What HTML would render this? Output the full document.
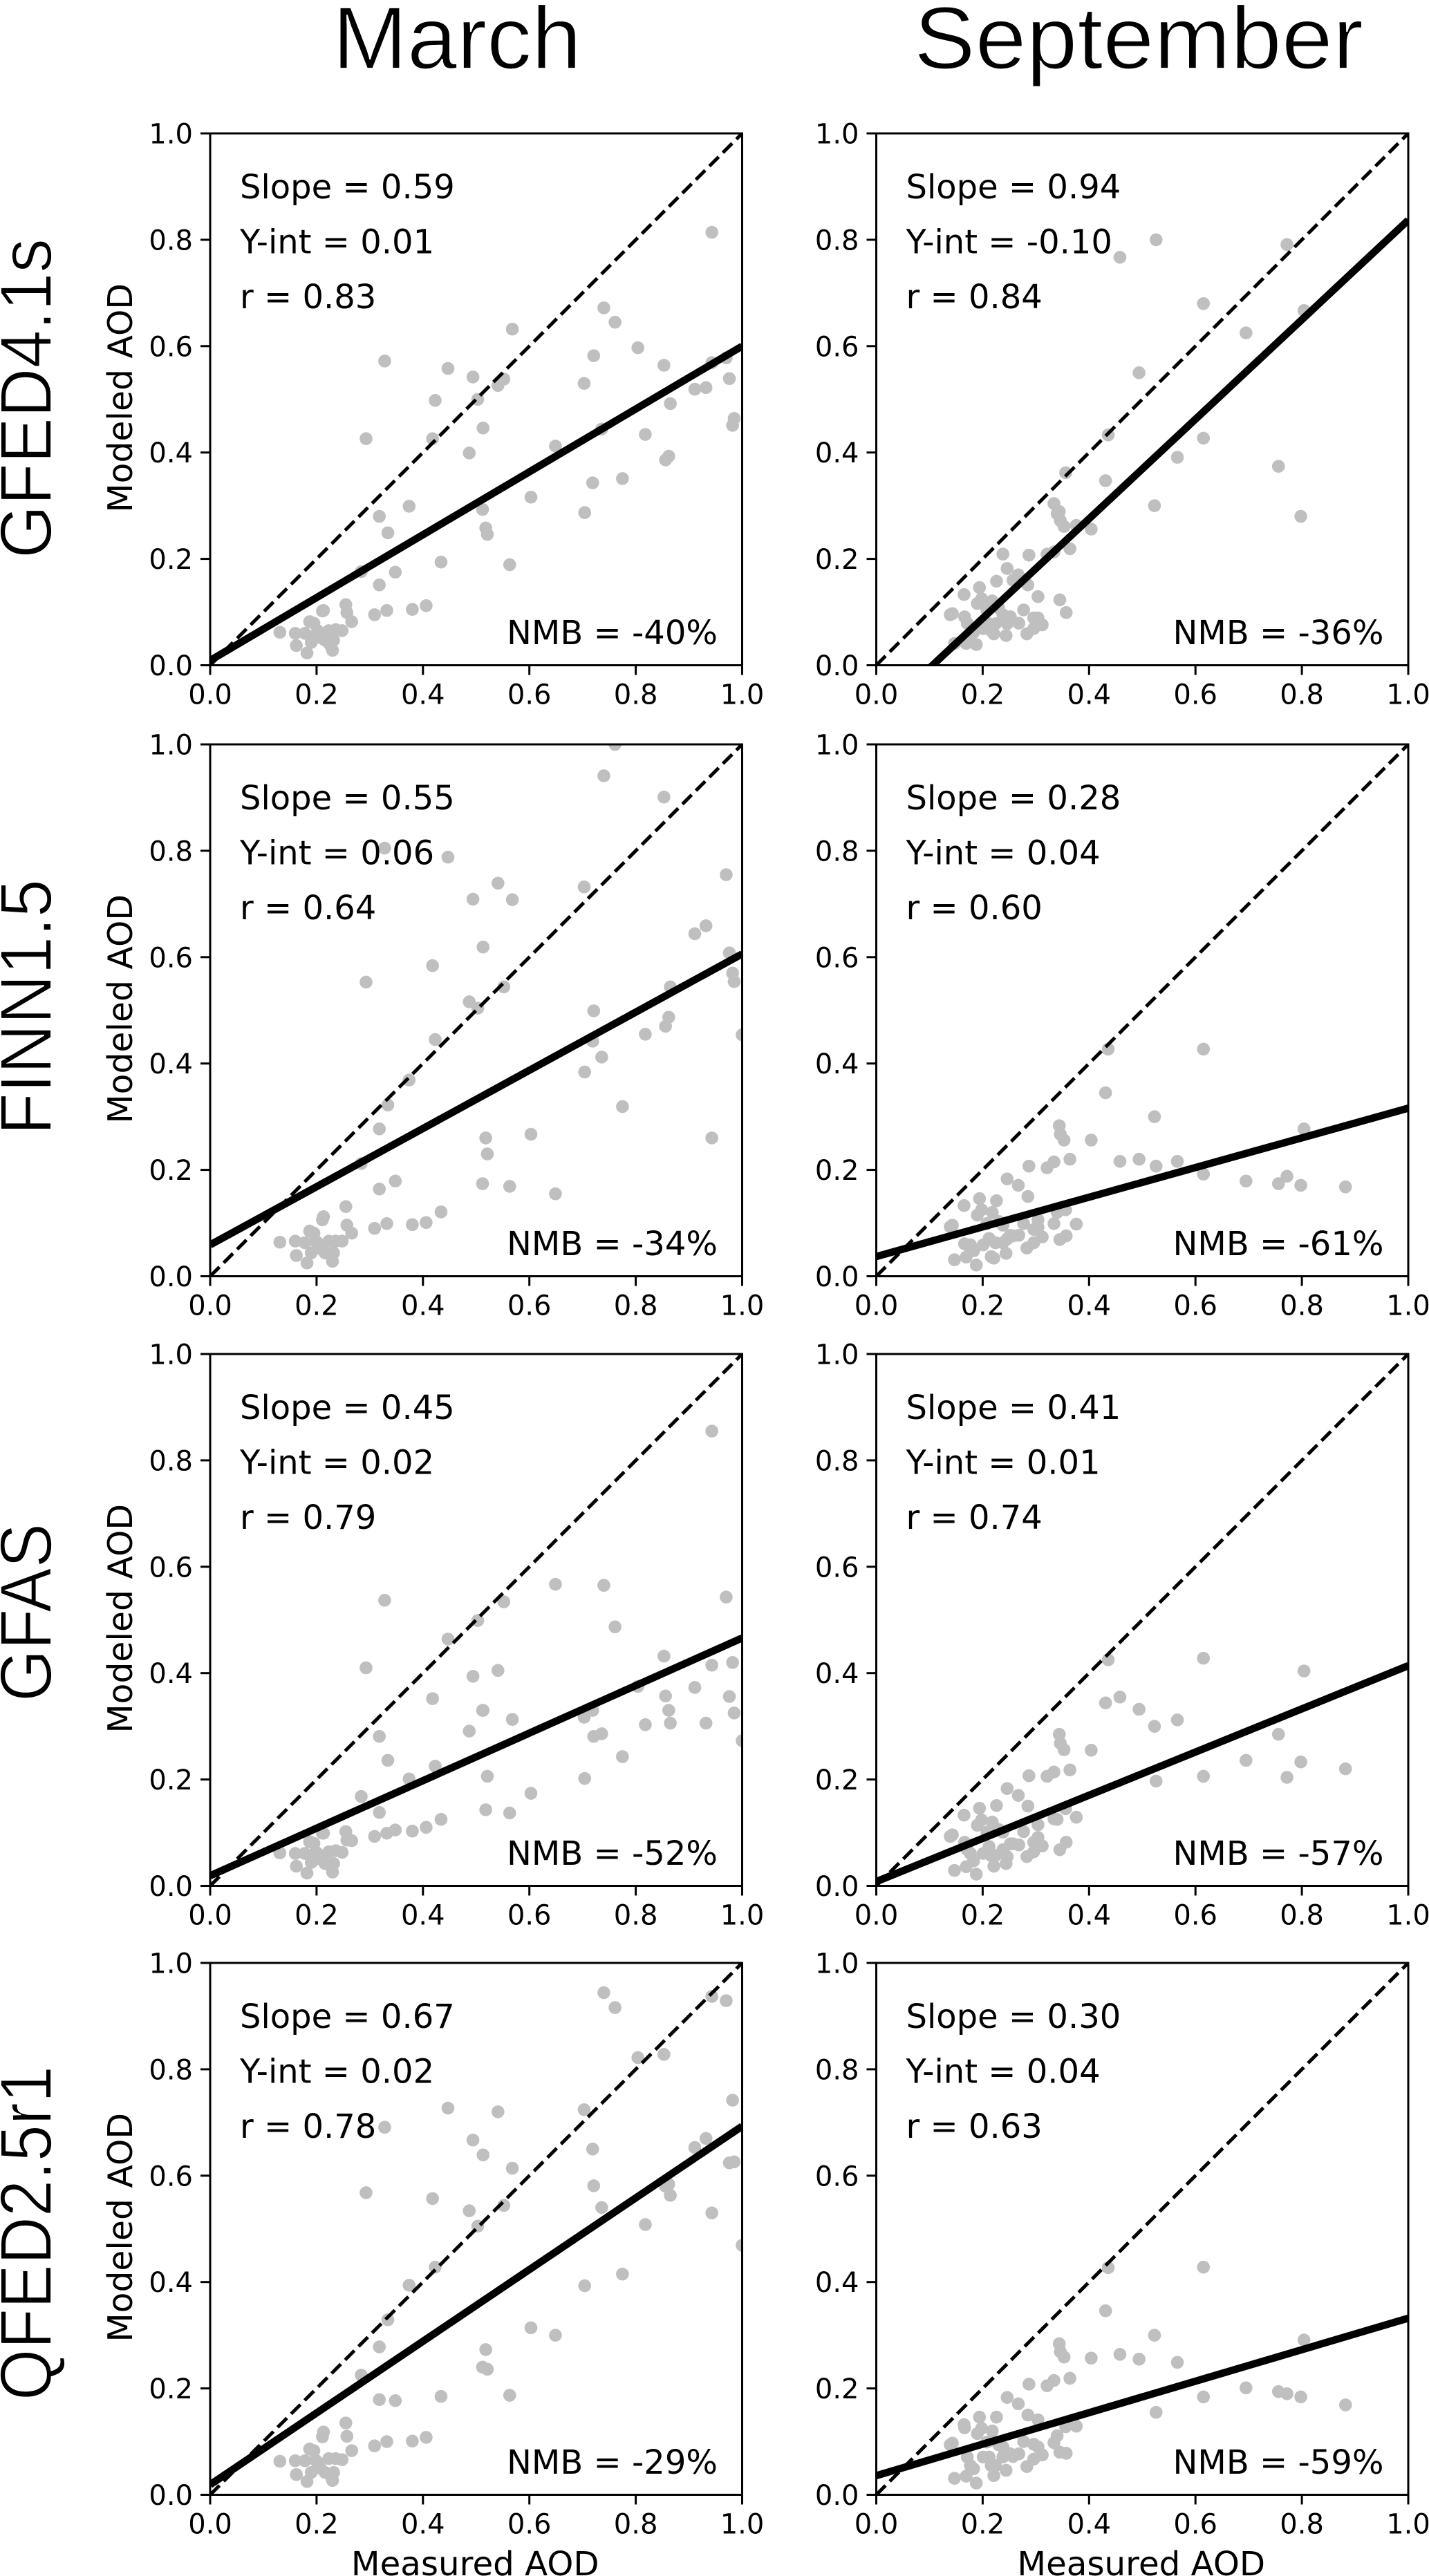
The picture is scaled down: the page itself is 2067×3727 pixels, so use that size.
<!DOCTYPE html>
<html lang="en">
<head>
<meta charset="utf-8">
<title>Modeled vs Measured AOD</title>
<style>
html,body{margin:0;padding:0;background:#fff;}
svg{display:block;}
text{fill:#000;}
.title{font-family:"Liberation Sans",sans-serif;stroke:#fff;stroke-width:1.8;paint-order:normal;}
.dv{font-family:"DejaVu Sans",sans-serif;}
</style>
</head>
<body>
<svg id="figure" xmlns="http://www.w3.org/2000/svg" width="2067" height="3727" viewBox="0 0 2067 3727">
  <rect x="0" y="0" width="2067" height="3727" fill="#fff"/>
  <text class="title" x="661" y="99" text-anchor="middle" font-size="128" textLength="360" lengthAdjust="spacingAndGlyphs">March</text>
  <text class="title" x="1647" y="99" text-anchor="middle" font-size="128" textLength="650" lengthAdjust="spacingAndGlyphs">September</text>
  <text class="title" transform="translate(74,808) rotate(-90)" font-size="106" textLength="463" lengthAdjust="spacingAndGlyphs">GFED4.1s</text>
  <text class="title" transform="translate(74,1642) rotate(-90)" font-size="106" textLength="370" lengthAdjust="spacingAndGlyphs">FINN1.5</text>
  <text class="title" transform="translate(74,2462) rotate(-90)" font-size="106" textLength="258" lengthAdjust="spacingAndGlyphs">GFAS</text>
  <text class="title" transform="translate(74,3473) rotate(-90)" font-size="106" textLength="484" lengthAdjust="spacingAndGlyphs">QFED2.5r1</text>
</svg>
<script>
// Shared axis ticks
const tickValues = [0, 0.2, 0.4, 0.6, 0.8, 1.0];
const tickLabels = ['0.0', '0.2', '0.4', '0.6', '0.8', '1.0'];

// Measured AOD (x) per month
const marchX = [.131,.160,.162,.182,.178,.187,.195,.190,.198,.202,
  .207,.211,.213,.216,.223,.225,.230,.232,.236,.248,
  .255,.257,.266,.284,.293,.309,.318,.318,.328,.332,
  .334,.348,.374,.380,.406,.418,.423,.434,.447,.487,
  .494,.503,.512,.513,.518,.521,.541,.552,.563,.568,
  .603,.649,.703,.704,.719,.721,.736,.740,.761,.775,
  .804,.818,.853,.856,.862,.865,.911,.932,.943,.943,
  .970,.976,.982,.985,1.0];
const septemberX = [.139,.143,.147,.165,.169,.166,.171,.177,.183,.188,
  .190,.194,.198,.201,.208,.212,.218,.216,.221,.226,
  .224,.230,.238,.238,.244,.246,.246,.252,.257,.267,
  .268,.277,.283,.285,.287,.296,.304,.296,.304,.312,
  .321,.334,.334,.340,.344,.345,.346,.353,.356,.357,
  .364,.376,.404,.431,.436,.458,.494,.523,.526,.566,
  .615,.615,.695,.756,.772,.798,.804,.882];

// Modeled AOD (y), March
const marchGfedY = [.062,.060,.037,.023,.060,.082,.079,.043,.056,.065,
  .052,.102,.103,.047,.065,.039,.028,.047,.067,.065,
  .114,.099,.082,.176,.426,.095,.280,.151,.572,.103,
  .249,.175,.299,.105,.112,.426,.498,.194,.558,.399,
  .542,.500,.293,.446,.258,.246,.526,.538,.189,.632,
  .316,.412,.530,.287,.343,.582,.444,.672,.645,.351,
  .597,.434,.564,.386,.393,.492,.519,.522,.814,.569,
  .578,.539,.451,.464,null];
const marchFinnY = [.064,.066,.039,.025,.063,.085,.081,.044,.066,.063,
  .052,.106,.112,.044,.066,.041,.028,.044,.066,.066,
  .131,.096,.081,.212,.553,.090,.277,.164,.805,.099,
  .322,.179,.369,.097,.101,.584,.445,.121,.788,.516,
  .709,.504,.174,.619,.260,.230,.739,.544,.169,.708,
  .267,.155,.732,.384,.442,.499,.412,.941,1.0,.319,
  null,.455,.901,.470,.487,.544,.644,.659,.260,null,
  .755,.608,.570,.554,.454];
const marchGfasY = [.062,.061,.037,.024,.061,.083,.080,.044,.064,.061,
  .050,.099,.099,.042,.064,.039,.026,.042,.066,.063,
  .102,.086,.085,.168,.410,.093,.281,.138,.537,.099,
  .236,.105,.201,.103,.110,.352,.225,.125,.464,.291,
  .394,.499,.330,.330,.143,.206,.405,.534,.137,.313,
  .174,.567,.317,.202,.330,.281,.286,.565,.487,.243,
  .375,.303,.432,.357,.330,.306,.373,.306,.855,.415,
  .543,.356,.420,.325,.273];
const marchQfedY = [.063,.064,.038,.025,.064,.086,.083,.042,.065,.061,
  .050,.109,.118,.042,.068,.038,.027,.042,.068,.066,
  .135,.110,.083,.225,.568,.092,.278,.179,.691,.100,
  .329,.177,.394,.101,.108,.557,.428,.185,.727,.534,
  .667,.505,.240,.639,.273,.236,.720,.544,.187,.614,
  .314,.300,.724,.393,.650,.581,.540,.944,.916,.415,
  .822,.508,.828,.580,.584,.563,.653,.670,.530,.937,
  .929,.624,.742,.626,.469];

// Modeled AOD (y), September
const septemberGfedY = [.095,.097,.041,.133,.041,.091,.079,.056,.062,.039,
  .116,.146,.125,.069,.104,.078,.121,.065,.059,.158,
  .078,.108,.209,.095,.056,.182,.078,.091,.160,.170,
  .079,.104,.059,.151,.207,.069,.129,.089,.089,.076,
  .209,.304,.213,.285,.289,.123,.272,.261,.362,.099,
  .219,.263,.256,.347,.433,.767,.550,.300,.800,.391,
  .680,.427,.625,.374,.791,.280,.667,null];
const septemberFinnY = [.093,.096,.031,.133,.036,.061,.059,.059,.048,.021,
  .115,.146,.125,.059,.099,.071,.120,.037,.034,.142,
  .063,.103,.096,.063,.043,.183,.070,.077,.076,.171,
  .077,.099,.053,.150,.207,.063,.106,.088,.092,.074,
  .204,.099,.215,.120,.283,.069,.267,.256,.125,.076,
  .220,.098,.256,.345,.427,.216,.220,.300,.207,.216,
  .427,.192,.179,.174,.188,.171,.277,.168];
const septemberGfasY = [.093,.096,.029,.133,.036,.082,.068,.061,.047,.022,
  .114,.146,.124,.061,.101,.074,.120,.057,.037,.151,
  .057,.106,.101,.068,.042,.183,.055,.079,.079,.170,
  .077,.102,.055,.150,.207,.064,.115,.082,.091,.075,
  .206,.126,.214,.125,.285,.068,.268,.256,.145,.082,
  .218,.129,.255,.344,.425,.355,.332,.300,.197,.312,
  .428,.206,.236,.285,.204,.233,.404,.220];
const septemberQfedY = [.094,.097,.031,.132,.035,.126,.071,.055,.049,.022,
  .115,.146,.125,.071,.099,.071,.120,.055,.036,.146,
  .055,.094,.090,.071,.046,.183,.077,.077,.072,.171,
  .077,.100,.053,.150,.208,.067,.141,.095,.090,.075,
  .205,.098,.215,.111,.284,.080,.269,.259,.128,.078,
  .219,.129,.257,.346,.427,.264,.255,.300,.155,.249,
  .428,.184,.201,.194,.190,.184,.291,.169];

// Regression statistics in each panel: [GFED, FINN, GFAS, QFED]
const marchSlopes = [0.591, 0.547, 0.447, 0.674];
const marchIntercepts = [0.009, 0.059, 0.019, 0.019];
const marchR = ['0.83', '0.64', '0.79', '0.78'];
const marchNmb = ['-40%', '-34%', '-52%', '-29%'];
const septemberSlopes = [0.936, 0.279, 0.406, 0.296];
const septemberIntercepts = [-0.099, 0.037, 0.008, 0.036];
const septemberR = ['0.84', '0.60', '0.74', '0.63'];
const septemberNmb = ['-36%', '-61%', '-57%', '-59%'];

const inventoryNames = ['gfed', 'finn', 'gfas', 'qfed'];
const marchSeries = [marchGfedY, marchFinnY, marchGfasY, marchQfedY];
const septemberSeries = [septemberGfedY, septemberFinnY, septemberGfasY, septemberQfedY];

// Layout
const PLOT_SIZE = 769.5;
const NS = 'http://www.w3.org/2000/svg';
const fig = document.getElementById('figure');

function mk(parent, tag, attrs, txt) {
  const e = document.createElementNS(NS, tag);
  for (const k in attrs) e.setAttribute(k, attrs[k]);
  if (txt !== undefined) e.textContent = txt;
  parent.appendChild(e);
  return e;
}

function drawPanel(opts) {
  const left = opts.left, top = opts.top, id = opts.id;
  const bottom = top + PLOT_SIZE, right = left + PLOT_SIZE;
  const xAxis = v => left + v * PLOT_SIZE;
  const yAxis = v => bottom - v * PLOT_SIZE;

  const g = mk(fig, 'g', {});
  
  

  const defs = mk(g, 'defs', {});
  const clip = mk(defs, 'clipPath', {id: 'clip-' + id});
  mk(clip, 'rect', {x: left, y: top, width: PLOT_SIZE, height: PLOT_SIZE});

  const plot = mk(g, 'g', {'clip-path': 'url(#clip-' + id + ')'});
  
  

  opts.x.forEach(function (xv, i) {
    const yv = opts.y[i];
    if (yv === null) return;
    const dot = mk(plot, 'circle', {cx: xAxis(xv), cy: yAxis(yv), r: 9.3, fill: '#bfbfbf'});
    
    
  });

  const fit = mk(plot, 'line', {x1: xAxis(0), y1: yAxis(opts.intercept), x2: xAxis(1), y2: yAxis(opts.intercept + opts.slope), stroke: '#000', 'stroke-width': 10.7});
  
  

  const oneToOne = mk(plot, 'line', {x1: xAxis(0), y1: yAxis(0), x2: xAxis(1), y2: yAxis(1), stroke: '#000', 'stroke-width': 5, 'stroke-dasharray': '19 8.6'});
  
  

  const frame = mk(g, 'rect', {x: left, y: top, width: PLOT_SIZE, height: PLOT_SIZE, fill: 'none', stroke: '#000', 'stroke-width': 3});
  
  

  tickValues.forEach(function (tv, i) {
    const xt = mk(g, 'line', {x1: xAxis(tv), x2: xAxis(tv), y1: bottom, y2: bottom + 14, stroke: '#000', 'stroke-width': 3});
    
    
    const yt = mk(g, 'line', {x1: left - 14, x2: left, y1: yAxis(tv), y2: yAxis(tv), stroke: '#000', 'stroke-width': 3});
    
    
    const xl = mk(g, 'text', {class: 'dv', x: xAxis(tv), y: bottom + 56, 'text-anchor': 'middle', 'font-size': 40}, tickLabels[i]);
    
    
    const yl = mk(g, 'text', {class: 'dv', x: left - 25, y: yAxis(tv) + 14.5, 'text-anchor': 'end', 'font-size': 40}, tickLabels[i]);
    
    
  });

  const annX = left + 43;
  const a1 = mk(g, 'text', {class: 'dv', x: annX, y: top + 94, 'font-size': 48}, 'Slope = ' + opts.slope.toFixed(2));
  
  
  const a2 = mk(g, 'text', {class: 'dv', x: annX, y: top + 173.5, 'font-size': 48}, 'Y-int = ' + opts.intercept.toFixed(2));
  
  
  const a3 = mk(g, 'text', {class: 'dv', x: annX, y: top + 253, 'font-size': 48}, 'r = ' + opts.r);
  
  
  const a4 = mk(g, 'text', {class: 'dv', x: right - 35.5, y: bottom - 30.5, 'text-anchor': 'end', 'font-size': 48}, 'NMB = ' + opts.nmb);
  
  

  if (opts.yTitle) {
    const yTitle = mk(g, 'text', {class: 'dv', transform: 'translate(' + (left - 113) + ',' + (top + PLOT_SIZE / 2 - 2) + ') rotate(-90)', 'text-anchor': 'middle', 'font-size': 48.8}, 'Modeled AOD');
    
    
  }
  if (opts.xTitle) {
    const xTitle = mk(g, 'text', {class: 'dv', x: left + PLOT_SIZE / 2 - 1.5, y: 3726, 'text-anchor': 'middle', 'font-size': 48.3}, 'Measured AOD');
    
    
  }
}

const rowTops = [193, 1077, 1959, 2840];
rowTops.forEach(function (top, r) {
  drawPanel({
    id: 'march-' + inventoryNames[r], left: 304, top: top,
    x: marchX, y: marchSeries[r],
    slope: marchSlopes[r], intercept: marchIntercepts[r], r: marchR[r], nmb: marchNmb[r],
    yTitle: true, xTitle: r === 3
  });
});

rowTops.forEach(function (top, r) {
  drawPanel({
    id: 'september-' + inventoryNames[r], left: 1267.5, top: top,
    x: septemberX, y: septemberSeries[r],
    slope: septemberSlopes[r], intercept: septemberIntercepts[r], r: septemberR[r], nmb: septemberNmb[r],
    yTitle: false, xTitle: r === 3
  });
});

// The source figure trims the left edge of the right column's y tick labels
const trim = mk(fig, 'rect', {x: 1150, y: 300, width: 31, height: 3350, fill: '#fff'});


</script>
</body>
</html>
